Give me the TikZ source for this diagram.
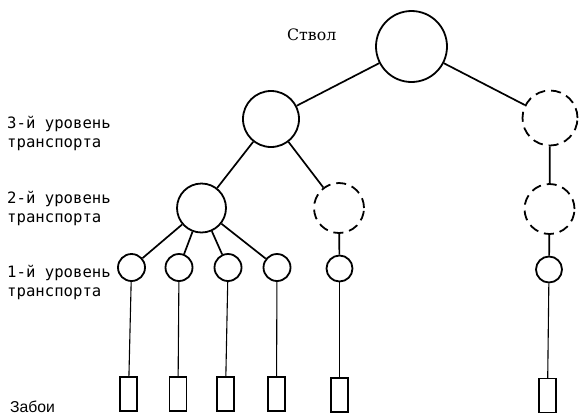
\documentclass[tikz,border=0pt]{standalone}
\usepackage{fontspec}
\setmainfont{DejaVu Serif}
\newfontfamily\levelfont{DejaVu Sans Mono}
\newfontfamily\facefont{Liberation Sans}
\begin{document}
\begin{tikzpicture}[x=1bp,y=-1bp,
  hub/.style={circle,draw,line width=1.8bp,inner sep=0pt},
  planned/.style={hub,dash pattern=on 10bp off 6bp},
  face/.style={rectangle,draw,line width=1.4bp,minimum width=17bp,minimum height=34bp,inner sep=0pt},
  link/.style={line width=1.7bp},
  drop/.style={line width=1.1bp},
  level/.style={inner sep=0pt,anchor=base west,font=\levelfont\fontsize{15.7}{20}\selectfont}]
\useasboundingbox (0,0) rectangle (579,416);

% shaft and transport levels
\node[hub,minimum size=71bp] (trunk) at (411.5,46.5) {};
\node[hub,minimum size=56bp] (t3a) at (271,119) {};
\node[planned,minimum size=55bp] (t3b) at (550,118) {};
\node[hub,minimum size=49bp] (t2a) at (201.5,208) {};
\node[planned,minimum size=50bp] (t2b) at (339,208) {};
\node[planned,minimum size=50bp] (t2c) at (549.5,209) {};
\node[hub,minimum size=27bp] (t1a) at (131.5,267.5) {};
\node[hub,minimum size=27bp] (t1b) at (179,267.5) {};
\node[hub,minimum size=27bp] (t1c) at (228,267.5) {};
\node[hub,minimum size=27bp] (t1d) at (277,267.5) {};
\node[hub,minimum size=26bp] (t1e) at (339.5,268.5) {};
\node[hub,minimum size=26bp] (t1f) at (549,269.5) {};

% working faces
\node[face] (f1) at (128.5,394) {};
\node[face] (f2) at (178,394) {};
\node[face] (f3) at (225.5,394) {};
\node[face] (f4) at (276.5,394) {};
\node[face] (f5) at (339.5,395) {};
\node[face] (f6) at (547.5,395.5) {};

% connections
\draw[link] (trunk) -- (t3a);
\draw[link] (trunk) -- (t3b);
\draw[link] (t3a) -- (t2a);
\draw[link] (t3a) -- (t2b);
\draw[link] (t3b) -- (t2c);
\draw[link] (t2a) -- (t1a);
\draw[link] (t2a) -- (t1b);
\draw[link] (t2a) -- (t1c);
\draw[link] (t2a) -- (t1d);
\draw[link] (t2b) -- (t1e);
\draw[link] (t2c) -- (t1f);
\draw[drop] (t1a) -- (f1);
\draw[drop] (t1b) -- (f2);
\draw[drop] (t1c) -- (f3);
\draw[drop] (t1d) -- (f4);
\draw[drop] (t1e) -- (f5);
\draw[drop] (t1f) -- (f6);

% labels
\node[inner sep=0pt,anchor=base west,font=\fontsize{15.8}{18}\selectfont] (shaftlabel) at (287,40) {Ствол};
\node[level] (lab3) at (7,128) {\begin{tabular}[t]{@{}l@{}}3-й уровень\\транспорта\end{tabular}};
\node[level] (lab2) at (7,203) {\begin{tabular}[t]{@{}l@{}}2-й уровень\\транспорта\end{tabular}};
\node[level] (lab1) at (7,277) {\begin{tabular}[t]{@{}l@{}}1-й уровень\\транспорта\end{tabular}};
\node[inner sep=0pt,anchor=base west,font=\facefont\fontsize{15.8}{18}\selectfont] (facelabel) at (10,412) {Забои};
\end{tikzpicture}
\end{document}
